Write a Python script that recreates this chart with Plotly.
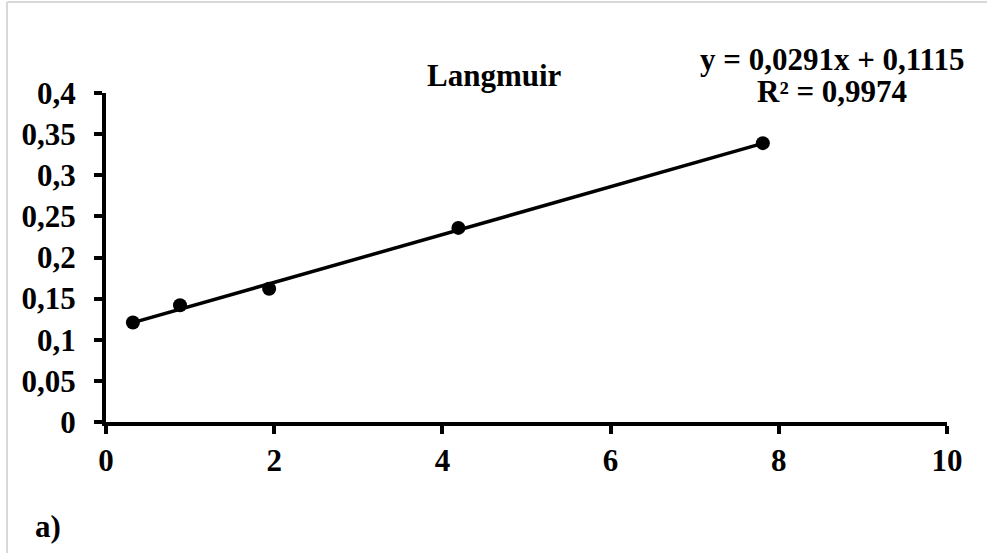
import plotly.graph_objects as go

# Langmuir isotherm data points
x_vals = [0.32, 0.88, 1.94, 4.19, 7.81]
y_vals = [0.121, 0.142, 0.162, 0.236, 0.339]

# linear trendline reported on the chart
slope = 0.0291
intercept = 0.1115
r2 = 0.9974

x_ticks = [0, 2, 4, 6, 8, 10]
y_ticks = [0, 0.05, 0.1, 0.15, 0.2, 0.25, 0.3, 0.35, 0.4]

FONT = "Liberation Serif"
W, H = 987, 553
L, R, T, B = 106, 40, 93, 131
PW, PH = W - L - R, H - T - B


def px_x(px):
    # pixel column -> paper x
    return (px - L) / PW


def px_y(py):
    # pixel row -> paper y
    return (H - B - py) / PH


def comma(v):
    return str(v).replace(".", ",")


trend_x = [min(x_vals), max(x_vals)]
trend_y = [slope * v + intercept for v in trend_x]

fig = go.Figure()
fig.add_trace(go.Scatter(x=trend_x, y=trend_y, mode="lines",
                         line=dict(color="black", width=3.5),
                         hoverinfo="skip", showlegend=False))
fig.add_trace(go.Scatter(x=x_vals, y=y_vals, mode="markers",
                         marker=dict(color="black", size=14),
                         showlegend=False))

axis_common = dict(showgrid=False, zeroline=False, showline=True,
                   linecolor="black", linewidth=4,
                   ticks="outside", ticklen=8, tickwidth=4, tickcolor="black",
                   tickfont=dict(family=FONT, size=31, color="black", weight="bold"))

fig.update_layout(
    width=W, height=H,
    margin=dict(l=L, r=R, t=T, b=B),
    paper_bgcolor="white", plot_bgcolor="white",
    separators=",.",
    xaxis=dict(range=[0, 10], tickvals=x_ticks, ticklabelstandoff=0, **axis_common),
    yaxis=dict(range=[0, 0.4], tickvals=y_ticks, ticklabelstandoff=12, **axis_common),
    font=dict(family=FONT, color="black"),
)

big = dict(family=FONT, size=31, color="black", weight="bold")
labels = [
    ("Langmuir", 494, 76),
    (f"y = {comma(slope)}x + {comma(intercept)}", 832, 59),
    (f"R² = {comma(r2)}", 832, 91),
    ("a)", 48, 526),
]
for txt, cx, cy in labels:
    fig.add_annotation(text=txt, xref="paper", yref="paper",
                       x=px_x(cx), y=px_y(cy), xanchor="center", yanchor="middle",
                       showarrow=False, font=big)

# faint frame along the top and left edges
fig.add_shape(type="line", xref="paper", yref="paper",
              x0=px_x(7), x1=px_x(W), y0=px_y(2), y1=px_y(2),
              line=dict(color="#d9d9d9", width=2))
fig.add_shape(type="line", xref="paper", yref="paper",
              x0=px_x(7), x1=px_x(7), y0=px_y(H), y1=px_y(2),
              line=dict(color="#d9d9d9", width=2))

fig.write_html("out.html", config={"displayModeBar": False},
               post_script="document.body.style.margin='0';")
